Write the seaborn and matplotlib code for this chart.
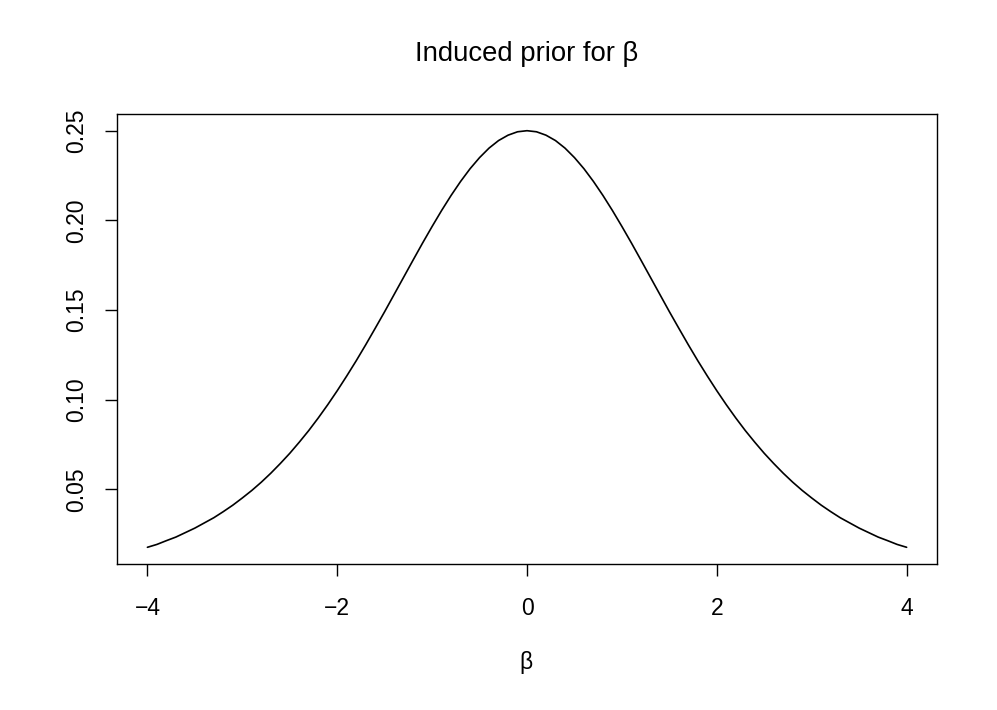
import matplotlib
matplotlib.use('Agg')
import seaborn as sns
import matplotlib.pyplot as plt
import pandas as pd

# values
beta = [-4.0, -3.9, -3.8, -3.7, -3.6, -3.5, -3.4, -3.3, -3.2, -3.1,
        -3.0, -2.9, -2.8, -2.7, -2.6, -2.5, -2.4, -2.3, -2.2, -2.1,
        -2.0, -1.9, -1.8, -1.7, -1.6, -1.5, -1.4, -1.3, -1.2, -1.1,
        -1.0, -0.9, -0.8, -0.7, -0.6, -0.5, -0.4, -0.3, -0.2, -0.1,
        0.0, 0.1, 0.2, 0.3, 0.4, 0.5, 0.6, 0.7, 0.8, 0.9,
        1.0, 1.1, 1.2, 1.3, 1.4, 1.5, 1.6, 1.7, 1.8, 1.9,
        2.0, 2.1, 2.2, 2.3, 2.4, 2.5, 2.6, 2.7, 2.8, 2.9,
        3.0, 3.1, 3.2, 3.3, 3.4, 3.5, 3.6, 3.7, 3.8, 3.9, 4.0]
density = [0.0177, 0.0193, 0.0214, 0.0234, 0.0259, 0.0284, 0.0313, 0.0342, 0.0376, 0.0412,
           0.0452, 0.0494, 0.0540, 0.0590, 0.0644, 0.0701, 0.0763, 0.0828, 0.0898, 0.0972,
           0.1050, 0.1132, 0.1217, 0.1306, 0.1398, 0.1491, 0.1587, 0.1683, 0.1779, 0.1874,
           0.1966, 0.2055, 0.2139, 0.2217, 0.2288, 0.2350, 0.2403, 0.2445, 0.2475, 0.2494,
           0.2500, 0.2494, 0.2475, 0.2445, 0.2403, 0.2350, 0.2288, 0.2217, 0.2139, 0.2055,
           0.1966, 0.1874, 0.1779, 0.1683, 0.1587, 0.1491, 0.1398, 0.1306, 0.1217, 0.1132,
           0.1050, 0.0972, 0.0898, 0.0828, 0.0763, 0.0701, 0.0644, 0.0590, 0.0540, 0.0494,
           0.0452, 0.0412, 0.0376, 0.0342, 0.0313, 0.0284, 0.0259, 0.0234, 0.0214, 0.0193, 0.0177]
xticks = [-4, -2, 0, 2, 4]
xticklabels = ['\u22124', '\u22122', '0', '2', '4']
yticks = [0.05, 0.10, 0.15, 0.20, 0.25]
yticklabels = ['0.05', '0.10', '0.15', '0.20', '0.25']

df = pd.DataFrame({'beta': beta, 'density': density})

sns.set_style('white')
plt.rcParams['font.family'] = ['Liberation Sans', 'DejaVu Sans']
plt.rcParams['text.color'] = 'black'
plt.rcParams['xtick.color'] = 'black'
plt.rcParams['ytick.color'] = 'black'

fig = plt.figure(figsize=(9.97, 7.10), dpi=100)
ax = fig.add_axes([0.1174, 0.2056, 0.8224, 0.6338])
sns.lineplot(data=df, x='beta', y='density', color='black', linewidth=1.2, ax=ax)

ax.set_xlim(-4.32, 4.32)
ax.set_ylim(0.00837, 0.2593)
ax.set_xticks(xticks)
ax.set_xticklabels(xticklabels)
ax.set_yticks(yticks)
ax.set_yticklabels(yticklabels, rotation=90, va='center')
ax.tick_params(axis='both', direction='out', length=8.6, width=1, colors='black',
               labelsize=16.5, bottom=True, left=True)
ax.tick_params(axis='x', pad=15)
ax.tick_params(axis='y', pad=12)
for s in ax.spines.values():
    s.set_color('black')
    s.set_linewidth(1)
ax.set_xlabel('')
ax.set_ylabel('')

fig.text(0.528, 1 - 54 / 710, 'Induced prior for \u03b2', ha='center', va='center',
         fontsize=19.8, color='black')
fig.text(0.528, 1 - 662 / 710, '\u03b2', ha='center', va='center', fontsize=16.5, color='black')

fig.savefig('out.png', dpi=100)
